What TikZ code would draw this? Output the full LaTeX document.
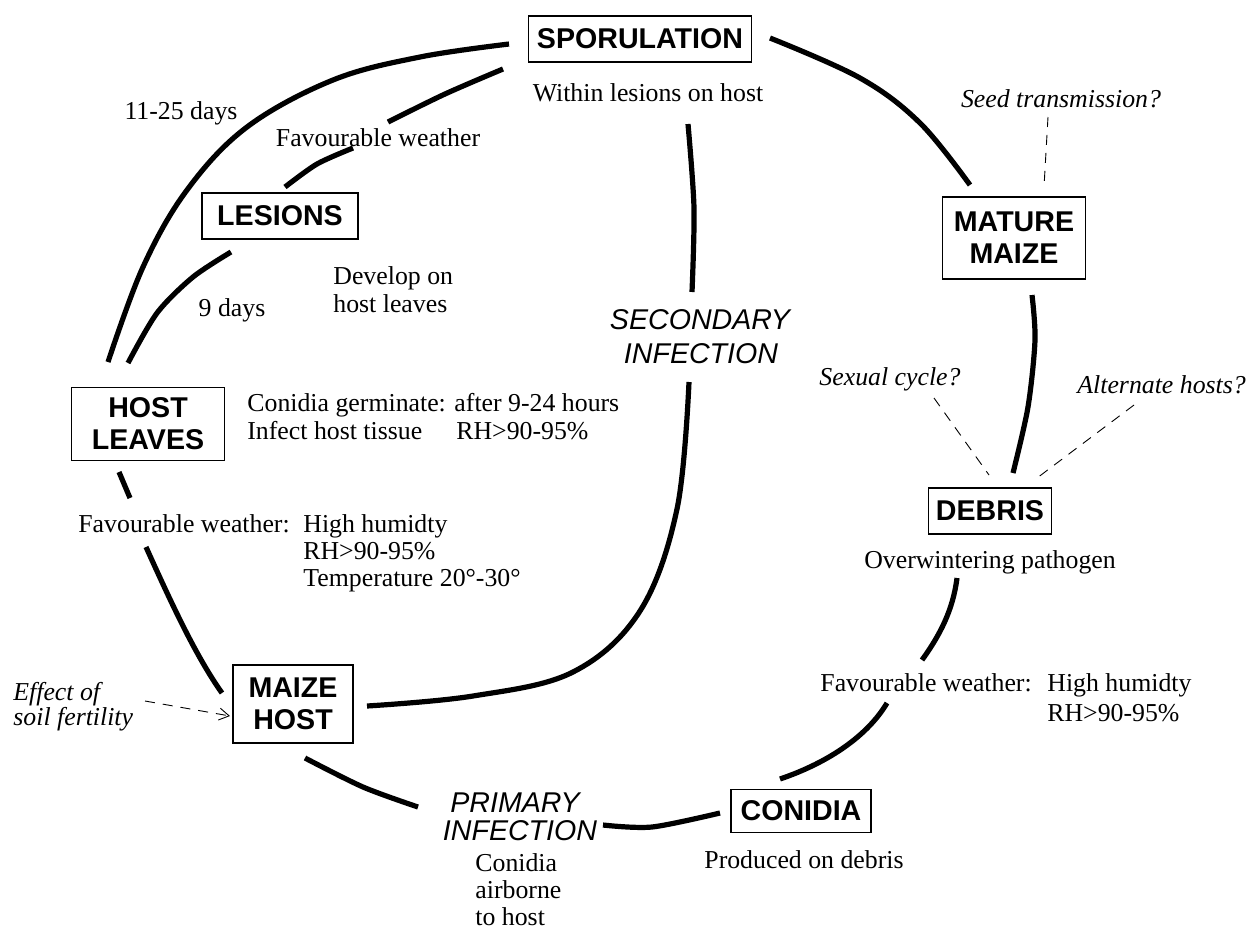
\documentclass[tikz,border=0pt]{standalone}
\usepackage{fontspec}
\setmainfont{Liberation Serif}
\setsansfont{Liberation Sans}
\usetikzlibrary{arrows.meta}
\newcommand\bxf{\fontsize{14.3}{16}\selectfont\sffamily\bfseries}
\newcommand\sif{\fontsize{14.3}{16}\selectfont\sffamily\itshape}
\newcommand\txf{\fontsize{12.9}{14}\selectfont}
\newcommand\itf{\fontsize{12.9}{12.5}\selectfont\itshape}
\begin{document}
\begin{tikzpicture}[x=0.5pt,y=-0.5pt,
  box/.style={draw, line width=0.7pt, inner sep=0pt, font=\bxf, align=center},
  conn/.style={line width=2.6pt},
  txt/.style={inner sep=0pt, font=\txf},
  itx/.style={inner sep=0pt, font=\itf},
  sit/.style={inner sep=0pt, font=\sif},
  dsh/.style={line width=0.45pt, dash pattern=on 5pt off 4pt}]
\useasboundingbox (0,0) rectangle (1248,933);

% boxes
\node[box, minimum width=111.5pt, minimum height=23pt] (spor) at (640,39) {SPORULATION};
\node[box, minimum width=78pt, minimum height=23pt] (les) at (280,216) {LESIONS};
\node[box, minimum width=76.5pt, minimum height=36.5pt] (hl) at (148,424) {HOST\\LEAVES};
\node[box, minimum width=60pt, minimum height=39pt] (mh) at (293,704) {MAIZE\\HOST};
\node[box, minimum width=70pt, minimum height=21.5pt] (con) at (801,811) {CONIDIA};
\node[box, minimum width=71.5pt, minimum height=41pt] (mm) at (1014,238) {MATURE\\MAIZE};
\node[box, minimum width=61.5pt, minimum height=23pt] (deb) at (990,511) {DEBRIS};

% texts (multi-line nodes: base = baseline of last line)
\node[txt, anchor=base] (t1) at (648,101) {Within lesions on host};
\node[txt, anchor=base] (t2) at (181,119) {11-25 days};
\node[txt, anchor=base] (t3) at (378,146) {Favourable weather};
\node[txt, anchor=base west, align=left] (t4) at (333,312) {Develop on\\host leaves};
\node[txt, anchor=base] (t5) at (232,316) {9 days};
\node[txt, anchor=base west] (t6) at (247,411) {Conidia germinate: after 9-24 hours};
\node[txt, anchor=base west] (t7) at (247,439) {Infect host tissue};
\node[txt, anchor=base west] (t8) at (456,439) {RH>90-95\%};
\node[txt, anchor=base west] (t9) at (78,532) {Favourable weather:};
\node[txt, font=\fontsize{12.9}{13.5}\selectfont, anchor=base west, align=left] (t10) at (303,586) {High humidty\\RH>90-95\%\\Temperature 20°-30°};
\node[itx, anchor=base west, align=left] (t11) at (13,725) {Effect of\\soil fertility};
\node[sit, anchor=base] (t12) at (700,329) {SECONDARY};
\node[sit, anchor=base] (t13) at (701,363) {INFECTION};
\node[sit, anchor=base] (t14) at (515,812) {PRIMARY};
\node[sit, anchor=base] (t15) at (520,840) {INFECTION};
\node[txt, font=\fontsize{12.9}{13.5}\selectfont, anchor=base west, align=left] (t16) at (475,925) {Conidia\\airborne\\to host};
\node[txt, anchor=base] (t17) at (804,868) {Produced on debris};
\node[txt, anchor=base] (t18) at (990,568) {Overwintering pathogen};
\node[txt, anchor=base west] (t19) at (820,691) {Favourable weather:};
\node[txt, font=\fontsize{12.9}{15}\selectfont, anchor=base west, align=left] (t20) at (1047,721) {High humidty\\RH>90-95\%};
\node[itx, anchor=base] (t21) at (1061,107) {Seed transmission?};
\node[itx, anchor=base] (t22) at (890,385) {Sexual cycle?};
\node[itx, anchor=base west] (t23) at (1077,393) {Alternate hosts?};

% connector end points
\coordinate (a1) at (509,44);   \coordinate (a2) at (108,362);
\coordinate (b1) at (503,69);   \coordinate (b2) at (388,122);
\coordinate (c1) at (353,148);  \coordinate (c2) at (285,187);
\coordinate (d1) at (231,252);  \coordinate (d2) at (128,363);
\coordinate (e1) at (119,472);  \coordinate (e2) at (130,498);
\coordinate (f1) at (146,547);  \coordinate (f2) at (222,693);
\coordinate (g1) at (367,706);  \coordinate (g2) at (689,382);
\coordinate (h1) at (688,124);  \coordinate (h2) at (692,292);
\coordinate (i1) at (305,758);  \coordinate (i2) at (418,807);
\coordinate (j1) at (603,825);  \coordinate (j2) at (720,813);
\coordinate (k1) at (780,779);  \coordinate (k2) at (887,703);
\coordinate (l1) at (922,660);  \coordinate (l2) at (957,578);
\coordinate (m1) at (1013,473); \coordinate (m2) at (1032,295);
\coordinate (n1) at (970,185);  \coordinate (n2) at (770,38);

\draw[conn] plot[smooth, tension=0.6] coordinates {(a1) (420,57) (333,80) (247,127) (187,190) (143,267) (a2)};
\draw[conn] plot[smooth] coordinates {(b1) (445,94) (b2)};
\draw[conn] plot[smooth] coordinates {(c1) (317,164) (c2)};
\draw[conn] plot[smooth] coordinates {(d1) (193,277) (157,313) (d2)};
\draw[conn] (e1) -- (e2);
\draw[conn] (f1) .. controls (170,600) and (195,655) .. (f2);
\draw[conn] plot[smooth, tension=0.6] coordinates {(g1) (473,696) (573,672) (640,611) (677,509) (g2)};
\draw[conn] plot[smooth] coordinates {(h1) (694,208) (h2)};
\draw[conn] plot[smooth] coordinates {(i1) (363,787) (i2)};
\draw[conn] plot[smooth] coordinates {(j1) (652,827) (j2)};
\draw[conn] (k1) .. controls (830,762) and (868,735) .. (k2);
\draw[conn] (l1) .. controls (940,635) and (953,610) .. (l2);
\draw[conn] plot[smooth] coordinates {(m1) (1028,407) (1035,340) (m2)};
\draw[conn] plot[smooth, tension=0.6] coordinates {(n1) (920,123) (860,78) (n2)};

% dashed
\coordinate (p1) at (1048,117); \coordinate (p2) at (1044,187);
\coordinate (q1) at (934,398);  \coordinate (q2) at (989,475);
\coordinate (r1) at (1134,405); \coordinate (r2) at (1037,478);
\coordinate (s1) at (145,701);  \coordinate (s2) at (230,716);
\draw[dsh] (p1) -- (p2);
\draw[dsh] (q1) -- (q2);
\draw[dsh] (r1) -- (r2);
\draw[dsh, -{Straight Barb[length=5pt,width=6pt]}] (s1) -- (s2);
\end{tikzpicture}
\end{document}
